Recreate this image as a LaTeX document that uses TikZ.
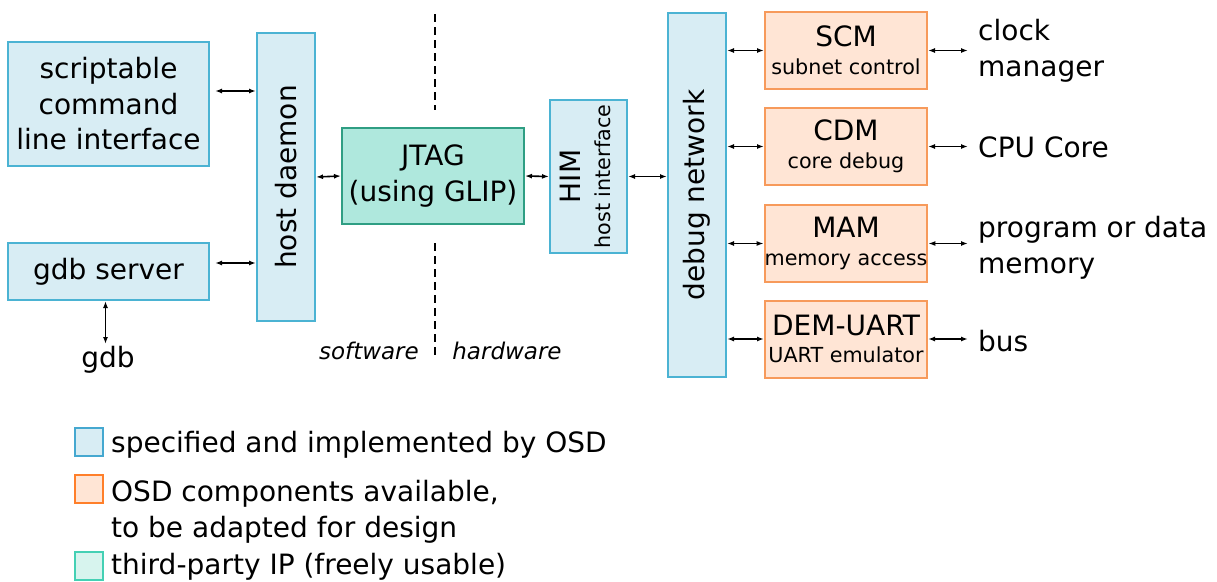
\documentclass[tikz,border=0pt]{standalone}
\usepackage{fontspec}
\setmainfont{DejaVu Sans}
\usetikzlibrary{arrows.meta,calc}
\definecolor{osdfill}{HTML}{D8EDF4}
\definecolor{osdline}{HTML}{4BB3D3}
\definecolor{modfill}{HTML}{FFE5D5}
\definecolor{modline}{HTML}{F79A5B}
\definecolor{jtagfill}{HTML}{AFE8DD}
\definecolor{jtagline}{HTML}{2F9E83}
\definecolor{lgline}{HTML}{45A8D0}
\definecolor{lgorange}{HTML}{FF7F2A}
\definecolor{lggreenfill}{HTML}{D7F4EE}
\definecolor{lggreen}{HTML}{44D0B4}
\newcommand{\smalltxt}{\fontsize{20.7}{24}\selectfont}

\begin{document}
\begin{tikzpicture}[x=1pt,y=-1pt,
    >={Latex[length=7pt,width=5pt]},
    every node/.style={font=\fontsize{28}{35.5}\selectfont,inner sep=0pt},
    osd/.style={draw=osdline,fill=osdfill,line width=2pt},
    mod/.style={draw=modline,fill=modfill,line width=2pt,minimum width=162pt,minimum height=77pt,align=center},
    conn/.style={<->,line width=1.6pt},
    legend/.style={line width=2pt,minimum size=28pt}]
    \useasboundingbox (0,0) rectangle (1217,581);
    % software side
    \node[osd,minimum width=201pt,minimum height=124pt,align=center] (cli) at (108.5,104) {scriptable\\command\\line interface};
    \node[osd,minimum width=201pt,minimum height=57pt] (gdbs) at (108.5,271.5) {gdb server};
    \node (gdb) at (108,360) {gdb};
    \node[osd,minimum width=58pt,minimum height=288pt] (hd) at (286,177) {\rotatebox{90}{host daemon}};
    \node[draw=jtagline,fill=jtagfill,line width=2pt,minimum width=182pt,minimum height=96pt,align=center] (jtag) at (433,176) {JTAG\\(using GLIP)};
    % hardware side
    \node[osd,minimum width=77pt,minimum height=153pt] (him) at (588.5,176.5) {\rotatebox{90}{\begin{tabular}{@{}c@{}}HIM\\[-6pt]\smalltxt host interface\end{tabular}}};
    \node[osd,minimum width=58pt,minimum height=364pt] (dbg) at (697,195) {\rotatebox{90}{debug network}};
    \node[mod] (scm) at (846,50.5) {SCM\\[-8pt]{\smalltxt subnet control}};
    \node[mod] (cdm) at (846,146.5) {CDM\\[-8pt]{\smalltxt core debug}};
    \node[mod] (mam) at (846,243.5) {MAM\\[-8pt]{\smalltxt memory access}};
    \node[mod] (dem) at (846,339) {DEM-UART\\[-8pt]{\smalltxt UART emulator}};
    \node[anchor=west,align=left] (clk) at (978,51) {clock\\manager};
    \node[anchor=west] (cpu) at (978,147) {CPU Core};
    \node[anchor=west,align=left] (mem) at (978,248) {program or data\\memory};
    \node[anchor=west] (bus) at (978,341) {bus};
    % connectors
    \draw[conn] ($(cli.east)+(5,-13)$) -- ($(hd.west)+(0,-86)$);
    \draw[conn] ($(gdbs.east)+(5,-8.5)$) -- ($(hd.west)+(0,86)$);
    \draw[conn] ($(gdbs.south)+(-3,0)$) -- ($(gdbs.south)+(-3,43)$);
    \draw[conn] (hd.east) -- (jtag.west);
    \draw[conn] (jtag.east) -- (him.west);
    \draw[conn] (him.east) -- (him.east -| dbg.west);
    \draw[conn] (dbg.east |- scm.west) -- (scm.west);
    \draw[conn] (dbg.east |- cdm.west) -- (cdm.west);
    \draw[conn] (dbg.east |- mam.west) -- (mam.west);
    \draw[conn] (dbg.east |- dem.west) -- (dem.west);
    \draw[conn] (scm.east) -- ([xshift=-10pt]scm.east -| clk.west);
    \draw[conn] (cdm.east) -- ([xshift=-10pt]cdm.east -| cpu.west);
    \draw[conn] (mam.east) -- ([xshift=-10pt]mam.east -| mem.west);
    \draw[conn] (dem.east) -- ([xshift=-10pt]dem.east -| bus.west);
    % software / hardware split
    \draw[line width=2pt,dash pattern=on 8pt off 5pt] (435,14) -- (435,110);
    \draw[line width=2pt,dash pattern=on 8pt off 5pt] (435,243) -- (435,358);
    \node[font=\itshape\fontsize{23}{27}\selectfont] (sw) at (369,351) {software};
    \node[font=\itshape\fontsize{23}{27}\selectfont] (hw) at (507,351) {hardware};
    % legend
    \node[legend,draw=lgline,fill=osdfill] (lg1) at (89,441.5) {};
    \node[anchor=west] (lt1) at (111,445) {specified and implemented by OSD};
    \node[legend,draw=lgorange,fill=modfill] (lg2) at (89,488.5) {};
    \node[anchor=west,align=left] (lt2) at (111,512) {OSD components available,\\to be adapted for design};
    \node[legend,draw=lggreen,fill=lggreenfill] (lg3) at (89,565.5) {};
    \node[anchor=west] (lt3) at (111,566.5) {third-party IP (freely usable)};
\end{tikzpicture}
\end{document}
